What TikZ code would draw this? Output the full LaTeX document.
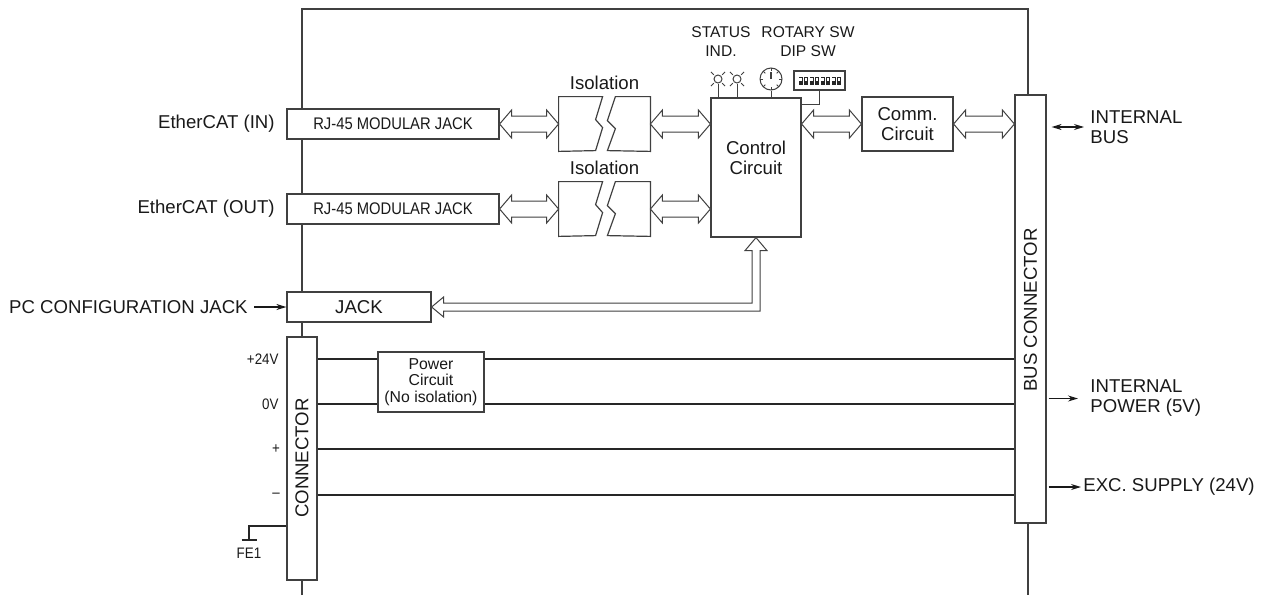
\documentclass[tikz,border=0pt]{standalone}
\usepackage{fontspec}
\setmainfont{Liberation Sans}
\newfontfamily\narrowfont[FakeStretch=0.88]{Liberation Sans}
\usetikzlibrary{calc,arrows.meta}
% hollow double arrow between two tips on one row
\def\dblarrow#1#2{\draw[hollow] (#1) -- ++(12,-14) -- ++(0,6) -- ($(#2)+(-12,-8)$) -- ++(0,-6) -- (#2) -- ++(-12,14) -- ++(0,-6) -- ($(#1)+(12,8)$) -- ++(0,6) -- cycle;}
% split isolation block drawn inside a node
\def\isoshape#1{\draw[boxline] (#1.north west) -- ++(44,0) -- ++(-7,23) -- ++(7,8) -- ++(-7,23) -- (#1.south west) -- cycle;
	\draw[boxline] (#1.north east) -- ++(-35,0) -- ++(-8,24) -- ++(8,8) -- ++(-8,22) -- (#1.south east) -- cycle;}
\tikzset{
	boxline/.style={draw=black!75, line width=0.6pt, fill=white},
	box/.style={boxline, inner sep=0pt, text=black!90},
	hollow/.style={draw=black!75, line width=0.5pt, fill=white},
	thinline/.style={draw=black!75, line width=0.5pt},
	pline/.style={draw=black!85, line width=0.7pt},
	sarrow/.style={draw=black!90, line width=0.6pt, -{Stealth[length=5pt,width=3pt]}},
	lbl/.style={font=\fontsize{9.3}{10}\selectfont, text=black!90, align=center, inner sep=1pt},
	lblsmall/.style={font=\fontsize{7.8}{9.5}\selectfont, text=black!90, align=center, inner sep=1pt},
	lbltiny/.style={font=\narrowfont\fontsize{7.6}{9}\selectfont, text=black!90, inner sep=1pt},
}

\begin{document}
\begin{tikzpicture}[x=0.5pt,y=-0.5pt]
		\useasboundingbox (0,0) rectangle (1263,595);
		%%%%% FRAME %%%%%
		\draw[thinline, line width=0.6pt] (302,595) -- (302,9) -- (1028,9) -- (1028,595);
		
		%%%%% JACKS AND ISOLATION %%%%%
		\node[box, minimum width=106pt, minimum height=15pt, font=\narrowfont\fontsize{8.4}{10}\selectfont] (rjin) at (393,124) {RJ-45 MODULAR JACK};
		\node[box, minimum width=106pt, minimum height=15pt, font=\narrowfont\fontsize{8.4}{10}\selectfont] (rjout) at (393,209) {RJ-45 MODULAR JACK};
		\node[lbl, anchor=east] (ecin) at (277,124) {EtherCAT (IN)};
		\node[lbl, anchor=east] (ecout) at (277,209) {EtherCAT (OUT)};
		
		\node[minimum width=45.5pt, minimum height=27pt, inner sep=0pt] (iso1) at (604.5,124) {};
		\node[minimum width=45.5pt, minimum height=27pt, inner sep=0pt] (iso2) at (604.5,209) {};
		\isoshape{iso1}
		\isoshape{iso2}
		\node[lbl] (isotxt1) at (604.5,83) {Isolation};
		\node[lbl] (isotxt2) at (604.5,168) {Isolation};
		
		%%%%% CONTROL %%%%%
		\node[box, minimum width=45pt, minimum height=69.5pt] (ctrl) at (756,167.5) {};
		\node[lbl] (ctrltxt) at (756,158) {Control\\Circuit};
		\node[box, lbl, inner sep=0pt, minimum width=45.5pt, minimum height=27pt] (comm) at (907.5,124) {Comm.\\Circuit};
		\node[box, minimum width=15.5pt, minimum height=214pt] (bus) at (1030.5,309) {};
		\node[lbl, rotate=90] (bustxt) at (1030.5,310) {BUS CONNECTOR};
		
		% status leds, rotary and dip switch
		\node[lblsmall] (stattxt) at (721,42) {STATUS\\IND.};
		\node[lblsmall] (rottxt) at (808,42) {ROTARY SW\\DIP SW};
		\foreach \n/\x in {led1/718, led2/737} {
			\node[circle, thinline, minimum size=4pt, inner sep=0pt] (\n) at (\x,79) {};
			\draw[thinline] (\n.south) -- (\n.south |- ctrl.north);
			\foreach \a in {45,135,225,315}
				\draw[thinline] ($(\n)+(\a:3pt)$) -- ($(\n)+(\a:5pt)$);
		}
		\node[circle, thinline, minimum size=11pt, inner sep=0pt] (rot) at (771,79) {};
		\foreach \a in {0,45,...,315}
			\draw[thinline] ($(rot)+(\a:4pt)$) -- ($(rot)+(\a:5.5pt)$);
		\draw[thinline, line width=0.8pt] (rot.center) -- ++(0,-7);
		\draw[thinline] (rot.south) -- (rot.south |- ctrl.north);
		\node[box, minimum width=25.5pt, minimum height=9.5pt] (dip) at (819.5,80.5) {};
		\foreach \i in {0,...,7} {
			\fill[black!85] (798.5+\i*5.5,77) rectangle ++(4,8);
			\fill[white] (799.3+\i*5.5,78) rectangle ++(2.4,2.5);
		}
		\draw[thinline] (dip.south) |- ($(ctrl.north east)+(0,7)$);
		
		%%%%% BUS ARROWS %%%%%
		\coordinate (cin1) at (ctrl.west |- iso1.east);
		\coordinate (cin2) at (ctrl.west |- iso2.east);
		\coordinate (cout) at (ctrl.east |- comm.west);
		\coordinate (bin) at (bus.west |- comm.east);
		\dblarrow{rjin.east}{iso1.west}
		\dblarrow{iso1.east}{cin1}
		\dblarrow{rjout.east}{iso2.west}
		\dblarrow{iso2.east}{cin2}
		\dblarrow{cout}{comm.west}
		\dblarrow{comm.east}{bin}
		
		%%%%% PC JACK %%%%%
		\node[box, lbl, inner sep=0pt, minimum width=72pt, minimum height=15pt] (jack) at (359,307) {JACK};
		\node[lbl, anchor=east, inner sep=3pt] (pccfg) at (254,307) {PC CONFIGURATION JACK};
		\draw[sarrow] (pccfg) -- (jack);
		\coordinate (lcorner) at (ctrl.south |- jack.east);
		\draw[hollow] (jack.east) -- ++(12,-10) -- ++(0,6) -- ($(lcorner)+(-4,-4)$) -- ($(ctrl.south)+(-4,13)$) -- ++(-7,0) -- (ctrl.south) -- ++(11,13) -- ++(-7,0) -- ($(lcorner)+(4,4)$) -- ($(jack.east)+(12,4)$) -- ++(0,6) -- cycle;
		
		%%%%% POWER %%%%%
		\node[box, minimum width=15pt, minimum height=121.5pt] (conn) at (302,458.5) {};
		\node[lbl, rotate=90] (conntxt) at (302,458) {CONNECTOR};
		\node[box, font=\fontsize{7.9}{8.25}\selectfont, align=center, minimum width=53pt, minimum height=30pt] (pwr) at (431,382) {Power\\Circuit\\(No isolation)};
		\node[lbltiny, anchor=east] (v24) at (281,359) {+24V};
		\node[lbltiny, anchor=east] (v0) at (281,404) {0V};
		\node[lbltiny] (vp) at (276,449) {+};
		\node[lbltiny] (vm) at (276,495) {–};
		\draw[pline] (conn.east |- v24) -- (pwr.west |- v24);
		\draw[pline] (pwr.east |- v24) -- (bus.west |- v24);
		\draw[pline] (conn.east |- v0) -- (pwr.west |- v0);
		\draw[pline] (pwr.east |- v0) -- (bus.west |- v0);
		\draw[pline, line width=1pt] (conn.east |- vp) -- (bus.west |- vp);
		\draw[pline, line width=1pt] (conn.east |- vm) -- (bus.west |- vm);
		
		% frame ground
		\node[lbltiny] (fe1) at (249,553) {FE1};
		\coordinate (gnd) at (249,540);
		\draw[pline] (conn.west |- 0,526) -| (gnd);
		\draw[pline, line width=0.9pt] ($(gnd)+(-7.5,0)$) -- ($(gnd)+(7.5,0)$);
		
		%%%%% OUTPUTS %%%%%
		\node[lbl, anchor=west, align=left] (ibus) at (1088,127) {INTERNAL\\BUS};
		\node[lbl, anchor=west, align=left] (ipow) at (1088,398.5) {INTERNAL\\POWER (5V)};
		\node[lbl, anchor=west] (exc) at (1081,487) {EXC. SUPPLY (24V)};
		\coordinate (ibA) at (bus.east |- ibus.west);
		\coordinate (ipA) at (bus.east |- ipow.west);
		\coordinate (exA) at (bus.east |- exc.west);
		\draw[sarrow, {Stealth[length=5pt,width=3pt]}-{Stealth[length=5pt,width=3pt]}] ([xshift=2.5pt]ibA) -- ([xshift=-2pt]ibus.west);
		\draw[sarrow] ([xshift=1pt]ipA) -- ([xshift=-5pt]ipow.west);
		\draw[sarrow] ([xshift=1pt]exA) -- (exc.west);
	\end{tikzpicture}
\end{document}
